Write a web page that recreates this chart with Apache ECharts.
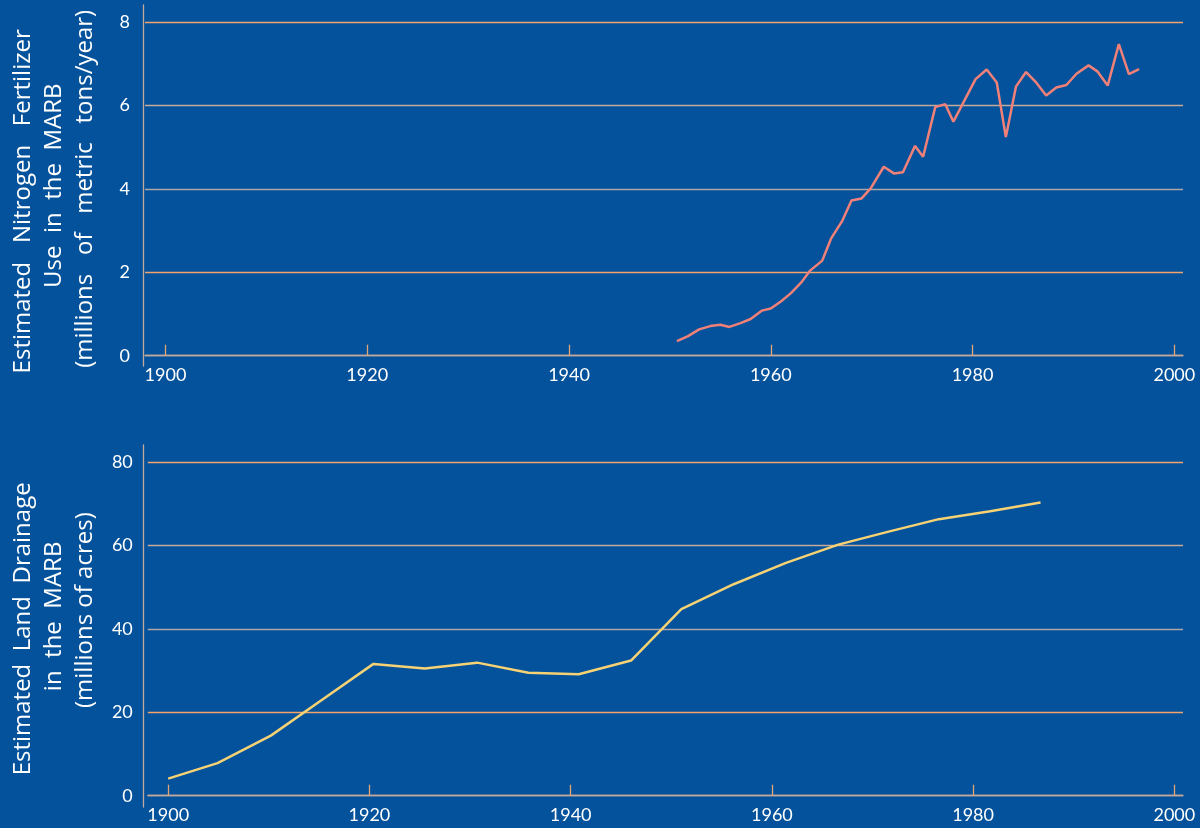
<!DOCTYPE html>
<html lang="en">
<head>
<meta charset="UTF-8">
<script src="https://cdn.jsdelivr.net/npm/echarts@6/dist/echarts.min.js"></script>
<style>
  html, body { margin: 0; padding: 0; background: #03529b; }
  #main { width: 1200px; height: 828px; }
</style>
</head>
<body>
<div id="main"></div>
<script>
var fertYears = [1950.7, 1951.8, 1952.9, 1954.0, 1955.0, 1955.9, 1957.0, 1958.0, 1959.1, 1960.0,
  1961.0, 1962.0, 1963.0, 1963.9, 1965.1, 1966.0, 1967.1, 1968.0, 1969.0, 1969.9,
  1971.2, 1972.2, 1973.1, 1974.3, 1975.1, 1976.3, 1977.3, 1978.1, 1979.2, 1980.3,
  1981.4, 1982.4, 1983.3, 1984.3, 1985.3, 1986.3, 1987.3, 1988.3, 1989.3, 1990.3,
  1991.5, 1992.4, 1993.4, 1994.5, 1995.5, 1996.5];
var fertilizer = [0.35, 0.47, 0.63, 0.71, 0.74, 0.69, 0.78, 0.88, 1.08, 1.13,
  1.30, 1.50, 1.75, 2.04, 2.28, 2.82, 3.24, 3.72, 3.77, 4.01,
  4.53, 4.37, 4.40, 5.03, 4.77, 5.96, 6.03, 5.61, 6.12, 6.63,
  6.86, 6.55, 5.24, 6.45, 6.80, 6.55, 6.24, 6.43, 6.49, 6.76,
  6.96, 6.81, 6.48, 7.47, 6.75, 6.87];

var drainYears = [1900.0, 1904.9, 1910.2, 1915.3, 1920.4, 1925.5, 1930.7, 1935.8, 1940.8,
  1946.0, 1951.0, 1956.2, 1961.4, 1966.6, 1971.6, 1976.6, 1981.7, 1986.7];
var drainage = [4.1, 7.8, 14.4, 23.0, 31.6, 30.5, 31.9, 29.5, 29.1,
  32.4, 44.7, 50.7, 55.8, 60.2, 63.3, 66.3, 68.2, 70.3];

var yearTicks = [1900, 1920, 1940, 1960, 1980, 2000];

var FONT = 'Lato';
var TITLE_FONT = 'Open Sans';
var axisTan = '#c2a99c';
var gridColors = ['#c2a99c', '#f3a46c', '#b0a6a8', '#c6ab9a', '#f3a46c'];

function xAxisFor(gridIndex) {
  return {
    type: 'value', gridIndex: gridIndex, min: 1897.97, max: 2000.86,
    axisLine: { lineStyle: { color: axisTan, width: 1.3 } },
    axisTick: { inside: true, length: 11, customValues: yearTicks, lineStyle: { color: '#e0a67a', width: 1.3 } },
    axisLabel: {
      customValues: yearTicks, color: '#ffffff', fontFamily: FONT, fontSize: 18, margin: 10,
      formatter: function (v) { return String(v); }
    },
    splitLine: { show: false }
  };
}

function yAxisFor(gridIndex, max, interval, name) {
  return {
    type: 'value', gridIndex: gridIndex, min: 0, max: max, interval: interval,
    name: name, nameLocation: 'middle', nameRotate: 90, nameGap: 44,
    nameTextStyle: { color: '#ffffff', fontFamily: TITLE_FONT, fontSize: 24, lineHeight: 31, align: 'center' },
    axisLine: { show: false },
    axisTick: { show: false },
    axisLabel: { color: '#ffffff', fontFamily: FONT, fontSize: 18, margin: 15 },
    splitLine: { lineStyle: { color: gridColors, width: 1.3 } }
  };
}

// bare vertical lines standing in for the y-axis lines, which run past the plot
function spineX(gridIndex) {
  return { type: 'value', gridIndex: gridIndex, min: 0, max: 1, show: false };
}
function spineY(gridIndex) {
  return {
    type: 'value', gridIndex: gridIndex, min: 0, max: 1,
    axisLine: { show: true, lineStyle: { color: axisTan, width: 1.3 } },
    axisTick: { show: false }, axisLabel: { show: false }, splitLine: { show: false }
  };
}

var chart = echarts.init(document.getElementById('main'));
chart.setOption({
  backgroundColor: '#03529b',
  animation: false,
  grid: [
    { left: 143, right: 17, top: 22, height: 333.7 },
    { left: 143, right: 17, top: 462, height: 333.7 },
    { left: 143, right: 17, top: 5, height: 361 },
    { left: 143, right: 17, top: 445, height: 362 }
  ],
  xAxis: [xAxisFor(0), xAxisFor(1), spineX(2), spineX(3)],
  yAxis: [
    yAxisFor(0, 8, 2, 'Estimated   Nitrogen   Fertilizer    \n Use  in  the  MARB\n(millions   of   metric   tons/year)'),
    yAxisFor(1, 80, 20, 'Estimated  Land  Drainage\n    in  the  MARB\n      (millions of acres)'),
    spineY(2), spineY(3)
  ],
  series: [
    {
      type: 'line', xAxisIndex: 0, yAxisIndex: 0, symbol: 'none',
      lineStyle: { color: '#f08078', width: 2.5 },
      data: fertYears.map(function (y, i) { return [y, fertilizer[i]]; })
    },
    {
      type: 'line', xAxisIndex: 1, yAxisIndex: 1, symbol: 'none',
      lineStyle: { color: '#f6d274', width: 2.5 },
      data: drainYears.map(function (y, i) { return [y, drainage[i]]; })
    }
  ]
});
</script>
</body>
</html>
